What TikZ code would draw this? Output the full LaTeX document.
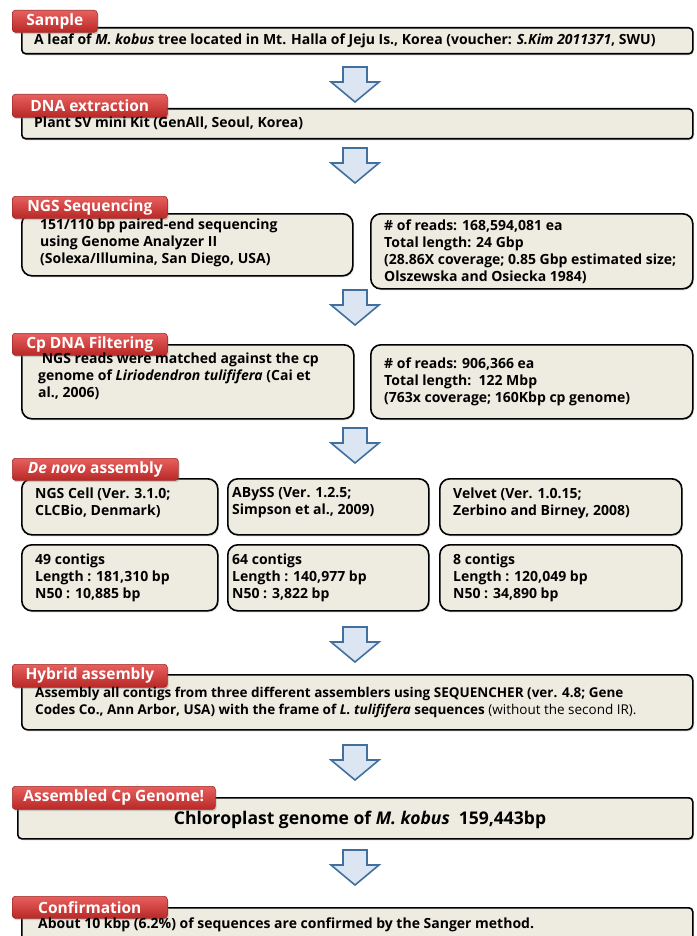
\documentclass[tikz,border=0pt]{standalone}
\usepackage{fontspec}
\setmainfont{Open Sans}
\usetikzlibrary{shadows}
\definecolor{boxfill}{HTML}{EEECE1}
\definecolor{tabtop}{HTML}{E8605E}
\definecolor{tabbot}{HTML}{B82826}
\definecolor{tabdraw}{HTML}{9E2A28}
\definecolor{arrowfill}{HTML}{DCE6F2}
\definecolor{arrowdraw}{HTML}{41709F}
\newcommand\bodyfont{\fontsize{14}{17}\selectfont\bfseries}
\newcommand\tabfont{\fontsize{15.5}{17}\selectfont\bfseries}
\tikzset{
  panel/.style={draw=black, line width=1.6pt, fill=boxfill, rounded corners=4pt,
    anchor=north west, inner sep=0pt,
    drop shadow={opacity=0.25, shadow xshift=1.2pt, shadow yshift=-1.5pt}},
  panelR/.style={panel, rounded corners=10pt},
  tab/.style={rounded corners=3pt, draw=tabdraw, line width=0.6pt, top color=tabtop, bottom color=tabbot,
    text=white, font=\tabfont, inner sep=0pt, anchor=north west,
    drop shadow={opacity=0.35, shadow xshift=1.2pt, shadow yshift=-1.8pt}},
  txt/.style={align=left, anchor=west, inner sep=0pt, font=\bodyfont},
  flow/.style={draw=arrowdraw, fill=arrowfill, line width=1.6pt, line join=miter},
  flowarrow/.pic={\draw[flow] (-12,0) -- (12,0) -- (12,15) -- (24,15) -- (0,35) -- (-24,15) -- (-12,15) -- cycle;}
}
\begin{document}
\begin{tikzpicture}[x=1pt,y=-1pt]
\clip (0,0) rectangle (696,936);
\fill[white] (0,0) rectangle (696,936);

% Sample
\node[panel, minimum width=671pt, minimum height=26pt] (sample) at (21,27) {};
\node[tab, minimum width=85pt, minimum height=22pt] (tsample) at (12,10) {Sample};
\node[txt] (xsample) at (34,41) {A leaf of \textit{M. kobus} tree located in Mt. Halla of Jeju Is., Korea (voucher: \textit{S.Kim 2011371}, SWU)};
\pic (a1) at (355,67) {flowarrow};

% DNA extraction
\node[panel, minimum width=671pt, minimum height=30pt] (dna) at (21,108) {};
\node[tab, minimum width=155pt, minimum height=23pt] (tdna) at (12,94) {DNA extraction};
\node[txt] (xdna) at (34,123) {Plant SV mini Kit (GenAll, Seoul, Korea)};
\pic (a2) at (355,148) {flowarrow};

% NGS sequencing
\node[panelR, minimum width=331pt, minimum height=62pt] (ngsl) at (21,213) {};
\node[panelR, minimum width=322pt, minimum height=75pt] (ngsr) at (370,213) {};
\node[tab, minimum width=155pt, minimum height=22pt] (tngs) at (12,196) {NGS Sequencing};
\node[txt] (xngsl) at (40,243) {151/110 bp paired-end sequencing\\using Genome Analyzer II\\(Solexa/Illumina, San Diego, USA)};
\node[txt] (xngsr) at (384,251.5) {\# of reads: 168,594,081 ea\\Total length: 24 Gbp\\(28.86X coverage; 0.85 Gbp estimated size;\\Olszewska and Osiecka 1984)};
\pic (a3) at (355,290) {flowarrow};

% Cp DNA filtering
\node[panelR, minimum width=332pt, minimum height=74pt] (cpl) at (21,344) {};
\node[panelR, minimum width=322pt, minimum height=74pt] (cpr) at (370,344) {};
\node[tab, minimum width=155pt, minimum height=22pt] (tcp) at (12,333) {Cp DNA Filtering};
\node[txt] (xcpl) at (38,376) {\ NGS reads were matched against the cp\\genome of \textit{Liriodendron tulififera} (Cai et\\al., 2006)};
\node[txt] (xcpr) at (384,382) {\# of reads: 906,366 ea\\Total length:\ \ 122 Mbp\\(763x coverage; 160Kbp cp genome)};
\pic (a4) at (355,428) {flowarrow};

% De novo assembly
\node[panelR, minimum width=196pt, minimum height=56pt] (dn1) at (21,478) {};
\node[panelR, minimum width=201pt, minimum height=56pt] (dn2) at (227,478) {};
\node[panelR, minimum width=242pt, minimum height=56pt] (dn3) at (439,478) {};
\node[panelR, minimum width=196pt, minimum height=66pt] (dn4) at (21,544) {};
\node[panelR, minimum width=201pt, minimum height=66pt] (dn5) at (227,544) {};
\node[panelR, minimum width=242pt, minimum height=66pt] (dn6) at (439,544) {};
\node[tab, minimum width=166pt, minimum height=22pt] (tdn) at (12,458) {\textit{De novo} assembly};
\node[txt] (xdn1) at (35,503) {NGS Cell (Ver. 3.1.0;\\CLCBio, Denmark)};
\node[txt] (xdn2) at (232,503) {ABySS (Ver. 1.2.5;\\Simpson et al., 2009)};
\node[txt] (xdn3) at (453,503) {Velvet (Ver. 1.0.15;\\Zerbino and Birney, 2008)};
\node[txt] (xdn4) at (35,578) {49 contigs\\Length : 181,310 bp\\N50 : 10,885 bp};
\node[txt] (xdn5) at (232,578) {64 contigs\\Length : 140,977 bp\\N50 : 3,822 bp};
\node[txt] (xdn6) at (453,578) {8 contigs\\Length : 120,049 bp\\N50 : 34,890 bp};
\pic (a5) at (355,627) {flowarrow};

% Hybrid assembly
\node[panel, rounded corners=6pt, minimum width=671pt, minimum height=55pt] (hyb) at (21,674) {};
\node[tab, minimum width=155pt, minimum height=23pt] (thyb) at (12,664) {Hybrid assembly};
\node[txt, font=\fontsize{13.5}{17}\selectfont\bfseries] (xhyb) at (35,702) {Assembly all contigs from three different assemblers using SEQUENCHER (ver. 4.8; Gene\\Codes Co., Ann Arbor, USA) with the frame of \textit{L. tulififera} sequences {\mdseries(without the second IR).}};
\pic (a6) at (355,745) {flowarrow};

% Assembled Cp genome
\node[panel, minimum width=675pt, minimum height=41pt] (asm) at (17,797) {};
\node[tab, minimum width=203pt, minimum height=23pt] (tasm) at (12,786) {Assembled Cp Genome!};
\node[inner sep=0pt, font=\fontsize{17.5}{20}\selectfont\bfseries] (xasm) at (360,820) {Chloroplast genome of \textit{M. kobus}\ \ 159,443bp};
\pic (a7) at (355,850) {flowarrow};

% Confirmation
\node[panel, minimum width=671pt, minimum height=45pt] (conf) at (21,907) {};
\node[tab, minimum width=155pt, minimum height=22pt] (tconf) at (12,896) {Confirmation};
\node[txt] (xconf) at (38,925) {About 10 kbp (6.2\%) of sequences are confirmed by the Sanger method.};
\end{tikzpicture}
\end{document}
